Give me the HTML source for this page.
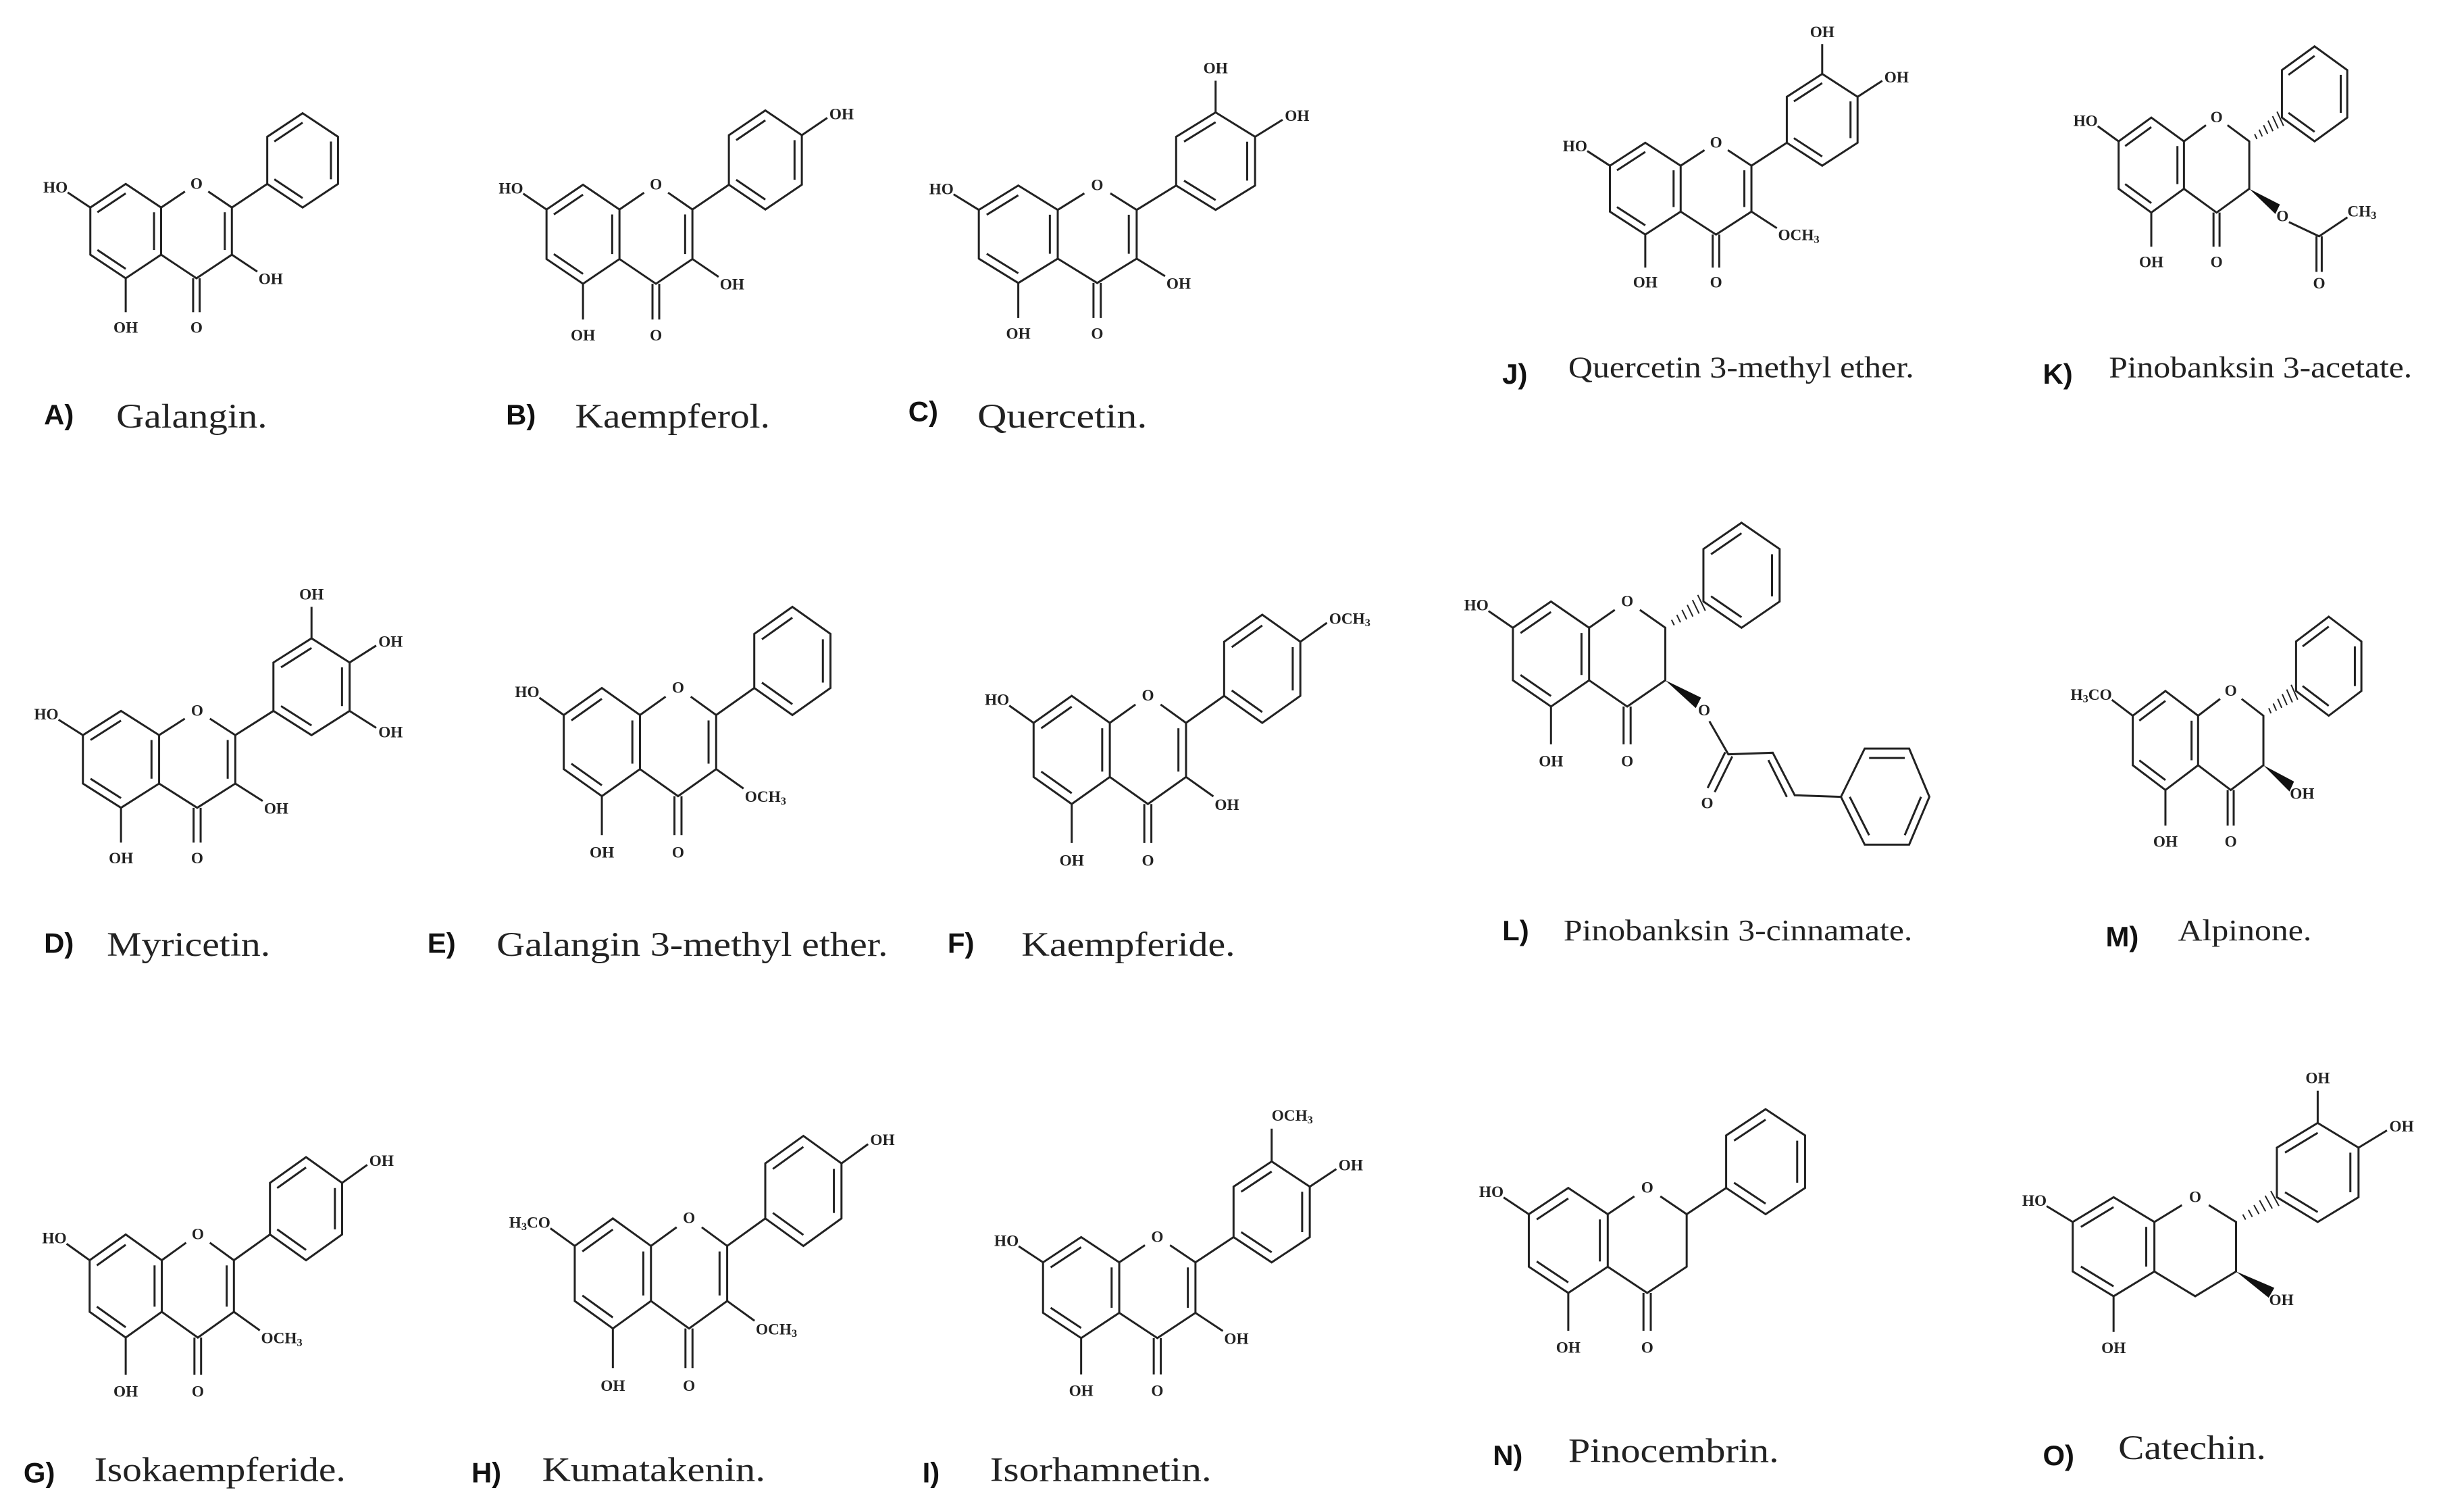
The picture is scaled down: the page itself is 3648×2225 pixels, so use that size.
<!DOCTYPE html>
<html><head><meta charset="utf-8">
<style>
html,body{margin:0;padding:0;background:#fff;}
svg{display:block;}
.t{font-family:"Liberation Serif",serif;font-size:10px;font-weight:bold;dominant-baseline:central;fill:#222;}
.cap{font-family:"Liberation Serif",serif;font-size:22px;fill:#222;}
.cap2{font-family:"Liberation Serif",serif;font-size:19px;fill:#222;}
.lab{font-family:"Liberation Sans",sans-serif;font-weight:bold;font-size:18px;fill:#111;}
#mA .t{transform:scale(.03846,.03333)}
#mB .t{transform:scale(.03731,.03175)}
#mC .t{transform:scale(.03448,.03226)}
#mD .t{transform:scale(.03571,.03247)}
#mE .t{transform:scale(.03571,.02907)}
#mF .t{transform:scale(.03571,.02907)}
#mG .t{transform:scale(.03774,.03049)}
#mH .t{transform:scale(.03571,.02857)}
#mI .t{transform:scale(.03571,.03115)}
#mJ .t{transform:scale(.03846,.03425)}
#mK .t{transform:scale(.04167,.03311)}
#mL .t{transform:scale(.03571,.02994)}
#mM .t{transform:scale(.04167,.03175)}
#mN .t{transform:scale(.03448,.02994)}
#mO .t{transform:scale(.03333,.03175)}
</style></head>
<body>
<svg width="3648" height="2225" viewBox="0 0 1568 956" preserveAspectRatio="none" xmlns="http://www.w3.org/2000/svg">
<rect width="1568" height="956" fill="#fff"/>
<defs>
<g id="core" fill="none" stroke="#222" stroke-width="3">
<path vector-effect="non-scaling-stroke" d="M0,-1L.866,-.5L.866,.5L0,1L-.866,.5L-.866,-.5Z M-.693,-.4L0,-.8 M.693,-.4L.693,.4 M0,.8L-.693,.4 M.866,-.5L1.45,-.84 M2.02,-.84L2.598,-.5L2.598,.5L1.732,1L.866,.5 M-.866,-.5L-1.42,-.82 M0,1L0,1.72 M4.33,-2.5L5.196,-2L5.196,-1L4.33,-.5L3.464,-1L3.464,-2Z M3.637,-1.9L4.33,-2.3 M5.023,-1.9L5.023,-1.1 M4.33,-.7L3.637,-1.1"/>
</g>
<g id="bondB" fill="none" stroke="#222" stroke-width="3"><path vector-effect="non-scaling-stroke" d="M2.598,-.5L3.464,-1"/></g>
<g id="hashB" fill="none" stroke="#222" stroke-width="2"><path vector-effect="non-scaling-stroke" d="M2.741,-.652L2.801,-.548M2.86,-.747L2.942,-.603M2.978,-.841L3.084,-.659M3.097,-.936L3.225,-.714M3.216,-1.03L3.366,-.77M3.335,-1.125L3.507,-.825"/></g>
<g id="c4o" fill="none" stroke="#222" stroke-width="3"><path vector-effect="non-scaling-stroke" d="M1.65,1L1.65,1.72M1.81,1L1.81,1.72"/></g>
<g id="c23" fill="none" stroke="#222" stroke-width="3"><path vector-effect="non-scaling-stroke" d="M2.425,-.4L2.425,.4"/></g>
<g id="c3o" fill="none" stroke="#222" stroke-width="3"><path vector-effect="non-scaling-stroke" d="M2.598,.5L3.22,.86"/></g>
<g id="wedge"><polygon points="2.598,.5 3.29,1.03 3.41,.83" fill="#111"/></g>
<g id="pb" fill="none" stroke="#222" stroke-width="3"><path vector-effect="non-scaling-stroke" d="M5.196,-2L5.8,-2.35"/></g>
<g id="m0b" fill="none" stroke="#222" stroke-width="3"><path vector-effect="non-scaling-stroke" d="M4.33,-2.5L4.33,-3.15"/></g>
<g id="m2b" fill="none" stroke="#222" stroke-width="3"><path vector-effect="non-scaling-stroke" d="M5.196,-1L5.8,-.65"/></g>
</defs>

<!-- A Galangin -->
<g id="mA" transform="translate(80 147) scale(26 30)">
<use href="#core"/><use href="#bondB"/><use href="#c4o"/><use href="#c23"/><use href="#c3o"/>
<g transform="translate(1.732 -1)"><text class="t" text-anchor="middle">O</text></g>
<g transform="translate(-1.42 -.92)"><text class="t" text-anchor="end">HO</text></g>
<g transform="translate(0 2.05)"><text class="t" text-anchor="middle">OH</text></g>
<g transform="translate(1.732 2.05)"><text class="t" text-anchor="middle">O</text></g>
<g transform="translate(3.25 1.02)"><text class="t">OH</text></g>
</g>
<!-- B Kaempferol -->
<g id="mB" transform="translate(371 149) scale(26.8 31.5)">
<use href="#core"/><use href="#bondB"/><use href="#c4o"/><use href="#c23"/><use href="#c3o"/><use href="#pb"/>
<g transform="translate(1.732 -1)"><text class="t" text-anchor="middle">O</text></g>
<g transform="translate(-1.42 -.92)"><text class="t" text-anchor="end">HO</text></g>
<g transform="translate(0 2.05)"><text class="t" text-anchor="middle">OH</text></g>
<g transform="translate(1.732 2.05)"><text class="t" text-anchor="middle">O</text></g>
<g transform="translate(3.25 1.02)"><text class="t">OH</text></g>
<g transform="translate(5.85 -2.42)"><text class="t">OH</text></g>
</g>
<!-- C Quercetin -->
<g id="mC" transform="translate(648 149) scale(29 31)">
<use href="#core"/><use href="#bondB"/><use href="#c4o"/><use href="#c23"/><use href="#c3o"/><use href="#pb"/><use href="#m0b"/>
<g transform="translate(1.732 -1)"><text class="t" text-anchor="middle">O</text></g>
<g transform="translate(-1.42 -.92)"><text class="t" text-anchor="end">HO</text></g>
<g transform="translate(0 2.05)"><text class="t" text-anchor="middle">OH</text></g>
<g transform="translate(1.732 2.05)"><text class="t" text-anchor="middle">O</text></g>
<g transform="translate(3.25 1.02)"><text class="t">OH</text></g>
<g transform="translate(5.85 -2.42)"><text class="t">OH</text></g>
<g transform="translate(4.33 -3.4)"><text class="t" text-anchor="middle">OH</text></g>
</g>
<!-- D Myricetin -->
<g id="mD" transform="translate(77 483) scale(28 30.8)">
<use href="#core"/><use href="#bondB"/><use href="#c4o"/><use href="#c23"/><use href="#c3o"/><use href="#pb"/><use href="#m0b"/><use href="#m2b"/>
<g transform="translate(1.732 -1)"><text class="t" text-anchor="middle">O</text></g>
<g transform="translate(-1.42 -.92)"><text class="t" text-anchor="end">HO</text></g>
<g transform="translate(0 2.05)"><text class="t" text-anchor="middle">OH</text></g>
<g transform="translate(1.732 2.05)"><text class="t" text-anchor="middle">O</text></g>
<g transform="translate(3.25 1.02)"><text class="t">OH</text></g>
<g transform="translate(5.85 -2.42)"><text class="t">OH</text></g>
<g transform="translate(4.33 -3.4)"><text class="t" text-anchor="middle">OH</text></g>
<g transform="translate(5.85 -.55)"><text class="t">OH</text></g>
</g>
<!-- E Galangin 3-methyl ether -->
<g id="mE" transform="translate(383 472) scale(28 34.4)">
<use href="#core"/><use href="#bondB"/><use href="#c4o"/><use href="#c23"/><use href="#c3o"/>
<g transform="translate(1.732 -1)"><text class="t" text-anchor="middle">O</text></g>
<g transform="translate(-1.42 -.92)"><text class="t" text-anchor="end">HO</text></g>
<g transform="translate(0 2.05)"><text class="t" text-anchor="middle">OH</text></g>
<g transform="translate(1.732 2.05)"><text class="t" text-anchor="middle">O</text></g>
<g transform="translate(3.25 1.02)"><text class="t">OCH<tspan font-size="7" dy="2">3</tspan></text></g>
</g>
<!-- F Kaempferide -->
<g id="mF" transform="translate(682 477) scale(28 34.4)">
<use href="#core"/><use href="#bondB"/><use href="#c4o"/><use href="#c23"/><use href="#c3o"/><use href="#pb"/>
<g transform="translate(1.732 -1)"><text class="t" text-anchor="middle">O</text></g>
<g transform="translate(-1.42 -.92)"><text class="t" text-anchor="end">HO</text></g>
<g transform="translate(0 2.05)"><text class="t" text-anchor="middle">OH</text></g>
<g transform="translate(1.732 2.05)"><text class="t" text-anchor="middle">O</text></g>
<g transform="translate(3.25 1.02)"><text class="t">OH</text></g>
<g transform="translate(5.85 -2.42)"><text class="t">OCH<tspan font-size="7" dy="2">3</tspan></text></g>
</g>
<!-- G Isokaempferide -->
<g id="mG" transform="translate(80 818) scale(26.5 32.8)">
<use href="#core"/><use href="#bondB"/><use href="#c4o"/><use href="#c23"/><use href="#c3o"/><use href="#pb"/>
<g transform="translate(1.732 -1)"><text class="t" text-anchor="middle">O</text></g>
<g transform="translate(-1.42 -.92)"><text class="t" text-anchor="end">HO</text></g>
<g transform="translate(0 2.05)"><text class="t" text-anchor="middle">OH</text></g>
<g transform="translate(1.732 2.05)"><text class="t" text-anchor="middle">O</text></g>
<g transform="translate(3.25 1.02)"><text class="t">OCH<tspan font-size="7" dy="2">3</tspan></text></g>
<g transform="translate(5.85 -2.42)"><text class="t">OH</text></g>
</g>
<!-- H Kumatakenin -->
<g id="mH" transform="translate(390 810) scale(28 35)">
<use href="#core"/><use href="#bondB"/><use href="#c4o"/><use href="#c23"/><use href="#c3o"/><use href="#pb"/>
<g transform="translate(1.732 -1)"><text class="t" text-anchor="middle">O</text></g>
<g transform="translate(-1.42 -.92)"><text class="t" text-anchor="end">H<tspan font-size="7" dy="2">3</tspan><tspan dy="-2">CO</tspan></text></g>
<g transform="translate(0 2.05)"><text class="t" text-anchor="middle">OH</text></g>
<g transform="translate(1.732 2.05)"><text class="t" text-anchor="middle">O</text></g>
<g transform="translate(3.25 1.02)"><text class="t">OCH<tspan font-size="7" dy="2">3</tspan></text></g>
<g transform="translate(5.85 -2.42)"><text class="t">OH</text></g>
</g>
<!-- I Isorhamnetin -->
<g id="mI" transform="translate(688 819) scale(28 32.1)">
<use href="#core"/><use href="#bondB"/><use href="#c4o"/><use href="#c23"/><use href="#c3o"/><use href="#pb"/><use href="#m0b"/>
<g transform="translate(1.732 -1)"><text class="t" text-anchor="middle">O</text></g>
<g transform="translate(-1.42 -.92)"><text class="t" text-anchor="end">HO</text></g>
<g transform="translate(0 2.05)"><text class="t" text-anchor="middle">OH</text></g>
<g transform="translate(1.732 2.05)"><text class="t" text-anchor="middle">O</text></g>
<g transform="translate(3.25 1.02)"><text class="t">OH</text></g>
<g transform="translate(5.85 -2.42)"><text class="t">OH</text></g>
<g transform="translate(4.33 -3.4)"><text class="t">OCH<tspan font-size="7" dy="2">3</tspan></text></g>
</g>
<!-- J Quercetin 3-methyl ether -->
<g id="mJ" transform="translate(1047 120) scale(26 29.2)">
<use href="#core"/><use href="#bondB"/><use href="#c4o"/><use href="#c23"/><use href="#c3o"/><use href="#pb"/><use href="#m0b"/>
<g transform="translate(1.732 -1)"><text class="t" text-anchor="middle">O</text></g>
<g transform="translate(-1.42 -.92)"><text class="t" text-anchor="end">HO</text></g>
<g transform="translate(0 2.05)"><text class="t" text-anchor="middle">OH</text></g>
<g transform="translate(1.732 2.05)"><text class="t" text-anchor="middle">O</text></g>
<g transform="translate(3.25 1.02)"><text class="t">OCH<tspan font-size="7" dy="2">3</tspan></text></g>
<g transform="translate(5.85 -2.42)"><text class="t">OH</text></g>
<g transform="translate(4.33 -3.4)"><text class="t" text-anchor="middle">OH</text></g>
</g>
<!-- K Pinobanksin 3-acetate -->
<g id="mK" transform="translate(1369 105) scale(24 30.2)">
<use href="#core"/><use href="#hashB"/><use href="#c4o"/><use href="#wedge"/>
<g fill="none" stroke="#222" stroke-width="3"><path vector-effect="non-scaling-stroke" d="M3.65,1.2L4.45,1.5L5.2,1.1M4.38,1.5L4.38,2.25M4.52,1.5L4.52,2.25"/></g>
<g transform="translate(1.732 -1)"><text class="t" text-anchor="middle">O</text></g>
<g transform="translate(-1.42 -.92)"><text class="t" text-anchor="end">HO</text></g>
<g transform="translate(0 2.05)"><text class="t" text-anchor="middle">OH</text></g>
<g transform="translate(1.732 2.05)"><text class="t" text-anchor="middle">O</text></g>
<g transform="translate(3.48 1.08)"><text class="t" text-anchor="middle">O</text></g>
<g transform="translate(5.2 .98)"><text class="t">CH<tspan font-size="7" dy="2">3</tspan></text></g>
<g transform="translate(4.45 2.5)"><text class="t" text-anchor="middle">O</text></g>
</g>
<!-- L Pinobanksin 3-cinnamate -->
<g id="mL" transform="translate(987 416) scale(28 33.4)">
<use href="#core"/><use href="#hashB"/><use href="#c4o"/><use href="#wedge"/>
<g fill="none" stroke="#222" stroke-width="3"><path vector-effect="non-scaling-stroke" d="M3.6,1.28L4.03,1.91L5.04,1.88L5.54,2.69L6.59,2.72 M3.96,1.87L3.56,2.55 M4.12,1.95L3.72,2.63 M4.94,2.02L5.36,2.72 M6.59,2.72L7.13,1.8L8.14,1.8L8.6,2.72L8.14,3.63L7.13,3.63Z M7.23,1.98L8.04,1.98 M8.41,2.72L8.04,3.45 M7.23,3.45L6.79,2.72"/></g>
<g transform="translate(1.732 -1)"><text class="t" text-anchor="middle">O</text></g>
<g transform="translate(-1.42 -.92)"><text class="t" text-anchor="end">HO</text></g>
<g transform="translate(0 2.05)"><text class="t" text-anchor="middle">OH</text></g>
<g transform="translate(1.732 2.05)"><text class="t" text-anchor="middle">O</text></g>
<g transform="translate(3.48 1.08)"><text class="t" text-anchor="middle">O</text></g>
<g transform="translate(3.55 2.85)"><text class="t" text-anchor="middle">O</text></g>
</g>
<!-- M Alpinone -->
<g id="mM" transform="translate(1378 471) scale(24 31.5)">
<use href="#core"/><use href="#hashB"/><use href="#c4o"/><use href="#wedge"/>
<g transform="translate(1.732 -1)"><text class="t" text-anchor="middle">O</text></g>
<g transform="translate(-1.42 -.92)"><text class="t" text-anchor="end">H<tspan font-size="7" dy="2">3</tspan><tspan dy="-2">CO</tspan></text></g>
<g transform="translate(0 2.05)"><text class="t" text-anchor="middle">OH</text></g>
<g transform="translate(1.732 2.05)"><text class="t" text-anchor="middle">O</text></g>
<g transform="translate(3.3 1.08)"><text class="t">OH</text></g>
</g>
<!-- N Pinocembrin -->
<g id="mN" transform="translate(998 789) scale(29 33.4)">
<use href="#core"/><use href="#bondB"/><use href="#c4o"/>
<g transform="translate(1.732 -1)"><text class="t" text-anchor="middle">O</text></g>
<g transform="translate(-1.42 -.92)"><text class="t" text-anchor="end">HO</text></g>
<g transform="translate(0 2.05)"><text class="t" text-anchor="middle">OH</text></g>
<g transform="translate(1.732 2.05)"><text class="t" text-anchor="middle">O</text></g>
</g>
<!-- O Catechin -->
<g id="mO" transform="translate(1345 793) scale(30 31.5)">
<use href="#core"/><use href="#hashB"/><use href="#wedge"/><use href="#pb"/><use href="#m0b"/>
<g transform="translate(1.732 -1)"><text class="t" text-anchor="middle">O</text></g>
<g transform="translate(-1.42 -.92)"><text class="t" text-anchor="end">HO</text></g>
<g transform="translate(0 2.05)"><text class="t" text-anchor="middle">OH</text></g>
<g transform="translate(3.3 1.08)"><text class="t">OH</text></g>
<g transform="translate(5.85 -2.42)"><text class="t">OH</text></g>
<g transform="translate(4.33 -3.4)"><text class="t" text-anchor="middle">OH</text></g>
</g>

<!-- captions -->
<text class="lab" x="28" y="270">A)</text><text class="cap" x="74" y="272" textLength="96" lengthAdjust="spacingAndGlyphs">Galangin.</text>
<text class="lab" x="322" y="270">B)</text><text class="cap" x="366" y="272" textLength="124" lengthAdjust="spacingAndGlyphs">Kaempferol.</text>
<text class="lab" x="578" y="268">C)</text><text class="cap" x="622" y="272" textLength="108" lengthAdjust="spacingAndGlyphs">Quercetin.</text>
<text class="lab" x="28" y="606">D)</text><text class="cap" x="68" y="608" textLength="104" lengthAdjust="spacingAndGlyphs">Myricetin.</text>
<text class="lab" x="272" y="606">E)</text><text class="cap" x="316" y="608" textLength="249" lengthAdjust="spacingAndGlyphs">Galangin 3-methyl ether.</text>
<text class="lab" x="603" y="606">F)</text><text class="cap" x="650" y="608" textLength="136" lengthAdjust="spacingAndGlyphs">Kaempferide.</text>
<text class="lab" x="15" y="943">G)</text><text class="cap" x="60" y="942" textLength="160" lengthAdjust="spacingAndGlyphs">Isokaempferide.</text>
<text class="lab" x="300" y="943">H)</text><text class="cap" x="345" y="942" textLength="142" lengthAdjust="spacingAndGlyphs">Kumatakenin.</text>
<text class="lab" x="587" y="943">I)</text><text class="cap" x="630" y="942" textLength="141" lengthAdjust="spacingAndGlyphs">Isorhamnetin.</text>
<text class="lab" x="956" y="244" font-size="16">J)</text><text class="cap2" x="998" y="240" textLength="220" lengthAdjust="spacingAndGlyphs">Quercetin 3-methyl ether.</text>
<text class="lab" x="1300" y="244" font-size="16">K)</text><text class="cap2" x="1342" y="240" textLength="193" lengthAdjust="spacingAndGlyphs">Pinobanksin 3-acetate.</text>
<text class="lab" x="956" y="598" font-size="16">L)</text><text class="cap2" x="995" y="598" textLength="222" lengthAdjust="spacingAndGlyphs">Pinobanksin 3-cinnamate.</text>
<text class="lab" x="1340" y="602" font-size="17">M)</text><text class="cap2" x="1386" y="598" textLength="85" lengthAdjust="spacingAndGlyphs">Alpinone.</text>
<text class="lab" x="950" y="932" font-size="17">N)</text><text class="cap" x="998" y="930" textLength="134" lengthAdjust="spacingAndGlyphs">Pinocembrin.</text>
<text class="lab" x="1300" y="932" font-size="17">O)</text><text class="cap" x="1348" y="928" textLength="94" lengthAdjust="spacingAndGlyphs">Catechin.</text>
</svg>
</body></html>
